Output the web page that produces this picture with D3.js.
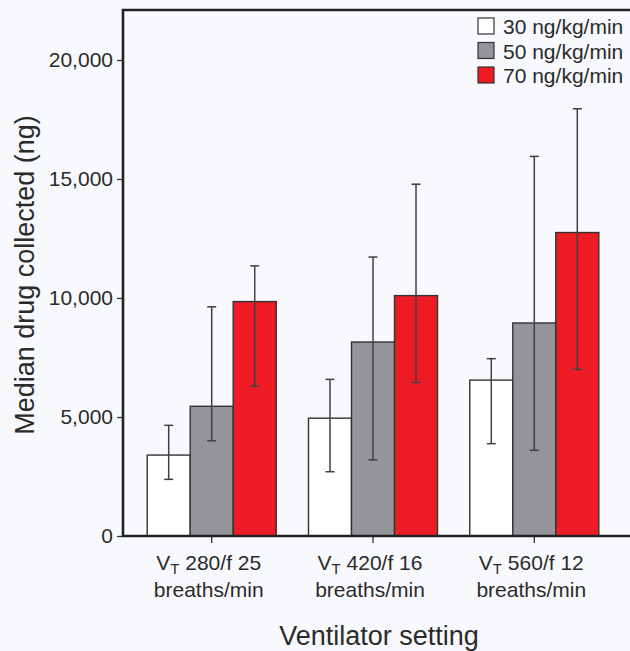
<!DOCTYPE html>
<html>
<head>
<meta charset="utf-8">
<script src="https://cdn.jsdelivr.net/npm/d3@7"></script>
<style>
  body { margin: 0; background: #f8f9fc; }
  svg { display: block; font-family: "Liberation Sans", Arial, sans-serif; }
</style>
</head>
<body>
<svg id="chart" width="630" height="651"></svg>
<script>
"use strict";

// data
let settings = [["280/f 25", "breaths/min"], ["420/f 16", "breaths/min"], ["560/f 12", "breaths/min"]];
let doses = ["30 ng/kg/min", "50 ng/kg/min", "70 ng/kg/min"];
let medians = [
  [3400, 5450, 9850],
  [4950, 8150, 10100],
  [6550, 8950, 12750]
];
let errLow = [
  [2380, 4000, 6300],
  [2700, 3200, 6450],
  [3880, 3600, 7000]
];
let errHigh = [
  [4650, 9630, 11350],
  [6580, 11720, 14780],
  [7450, 15950, 17950]
];
let yTicks = [0, 5000, 10000, 15000, 20000];
let colors = ["#ffffff", "#939598", "#ed1c24"];

let width = 630, height = 651;
let svg = d3.select("#chart");

let y = d3.scaleLinear().domain([0, 22100]).range([536, 10]);
let x = d3.scaleBand()
  .domain(d3.range(settings.length))
  .range([123, 623])
  .paddingInner(0.2)
  .paddingOuter(0.15);
let xInner = d3.scaleBand().domain(d3.range(doses.length)).range([0, x.bandwidth()]);

// Bars
let groups = svg.append("g").selectAll("g")
  .data(settings)
  .enter().append("g")
  .attr("transform", (d, i) => `translate(${x(i)},0)`);

groups.selectAll("rect")
  .data((d, i) => medians[i].map((v, j) => ({v: v, j: j})))
  .enter().append("rect")
  .attr("x", d => xInner(d.j))
  .attr("y", d => y(d.v))
  .attr("width", xInner.bandwidth())
  .attr("height", d => y(0) - y(d.v))
  .style("fill", d => colors[d.j])
  .style("stroke", "#333")
  .style("stroke-width", 1.4);

// Error bars
let errs = groups.selectAll("g.err")
  .data((d, i) => medians[i].map((v, j) => ({lo: errLow[i][j], hi: errHigh[i][j], j: j})))
  .enter().append("g")
  .attr("class", "err")
  .attr("transform", d => `translate(${xInner(d.j) + xInner.bandwidth() / 2},0)`)
  .style("stroke", "#404040")
  .style("stroke-width", 1.5);
errs.append("line").attr("x1", 0).attr("x2", 0).attr("y1", d => y(d.lo)).attr("y2", d => y(d.hi));
errs.append("line").attr("x1", -4.5).attr("x2", 4.5).attr("y1", d => y(d.lo)).attr("y2", d => y(d.lo));
errs.append("line").attr("x1", -4.5).attr("x2", 4.5).attr("y1", d => y(d.hi)).attr("y2", d => y(d.hi));

// Y axis
let yAxis = svg.append("g")
  .attr("transform", "translate(123,0)")
  .call(d3.axisLeft(y).tickValues(yTicks).tickSize(6).tickPadding(4).tickFormat(d3.format(",")));
yAxis.select(".domain").remove();
yAxis.selectAll(".tick line").style("stroke", "#333").style("stroke-width", 1.3);
yAxis.selectAll(".tick text")
  .style("font-size", "21px")
  .style("fill", "#2b2b2b")
  .style("font-family", "Liberation Sans, Arial, sans-serif");

// X axis ticks
let xAxis = svg.append("g")
  .attr("transform", `translate(0,${y(0)})`)
  .call(d3.axisBottom(x).tickSize(7).tickFormat(""));
xAxis.select(".domain").remove();
xAxis.selectAll(".tick line").style("stroke", "#333").style("stroke-width", 1.3);

// frame: left, top, bottom
svg.append("path")
  .attr("d", `M${width},${y(22100)}H123V${y(0)}H${width}`)
  .style("fill", "none")
  .style("stroke", "#222")
  .style("stroke-width", 2.6);

// X category labels
let xl = svg.append("g").selectAll("text")
  .data(settings)
  .enter().append("text")
  .attr("x", (d, i) => x(i) + x.bandwidth() / 2 - 3)
  .attr("y", 570)
  .attr("text-anchor", "middle")
  .style("font-size", "21px")
  .style("fill", "#2b2b2b");
xl.append("tspan").text("V");
xl.append("tspan").attr("dy", 4).style("font-size", "15px").text("T");
xl.append("tspan").attr("dy", -4).text(d => " " + d[0]);
svg.append("g").selectAll("text")
  .data(settings)
  .enter().append("text")
  .attr("x", (d, i) => x(i) + x.bandwidth() / 2 - 3)
  .attr("y", 597)
  .attr("text-anchor", "middle")
  .style("font-size", "21px")
  .style("fill", "#2b2b2b")
  .text(d => d[1]);

// Axis titles
svg.append("text")
  .attr("x", 379)
  .attr("y", 645)
  .attr("text-anchor", "middle")
  .style("font-size", "27px")
  .style("fill", "#2b2b2b")
  .text("Ventilator setting");

svg.append("text")
  .attr("transform", "translate(34,275) rotate(-90)")
  .attr("text-anchor", "middle")
  .style("font-size", "27px")
  .style("fill", "#2b2b2b")
  .text("Median drug collected (ng)");

// Legend
let legend = svg.append("g").selectAll("g")
  .data(doses)
  .enter().append("g")
  .attr("transform", (d, i) => `translate(478,${18 + i * 24.5})`);
legend.append("rect")
  .attr("width", 16)
  .attr("height", 16)
  .style("fill", (d, i) => colors[i])
  .style("stroke", "#333")
  .style("stroke-width", 1.2);
legend.append("text")
  .attr("x", 25)
  .attr("y", 16)
  .style("font-size", "21px")
  .style("fill", "#2b2b2b")
  .text(d => d);
</script>
</body>
</html>
